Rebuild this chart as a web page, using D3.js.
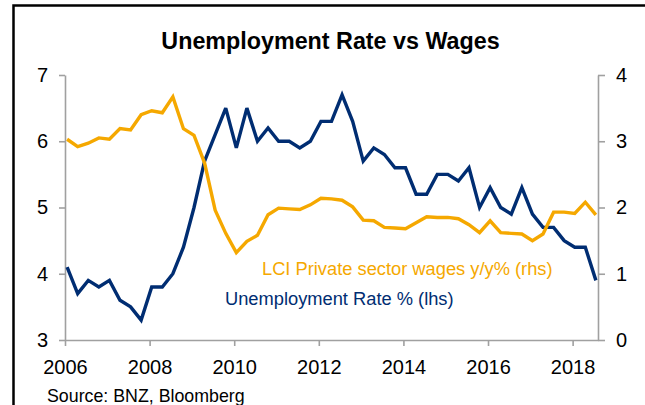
<!DOCTYPE html>
<html>
<head>
<meta charset="utf-8">
<script src="https://cdn.jsdelivr.net/npm/d3@7"></script>
<style>
  html, body { margin: 0; padding: 0; background: #fff; }
  svg { display: block; font-family: "Liberation Sans", Arial, sans-serif; }
</style>
</head>
<body>
<svg id="chart" width="645" height="405"></svg>
<script>
// ---- data (quarterly, 2006Q1 .. 2018Q3) ----
const startYear = 2006;
const quarterCount = 51;
const unemployment = [
  4.1, 3.7, 3.9, 3.8,
  3.9, 3.6, 3.5, 3.3,
  3.8, 3.8, 4.0, 4.4,
  5.0, 5.7, 6.1, 6.5,
  5.9, 6.5, 6.0, 6.2,
  6.0, 6.0, 5.9, 6.0,
  6.3, 6.3, 6.7, 6.3,
  5.7, 5.9, 5.8, 5.6,
  5.6, 5.2, 5.2, 5.5,
  5.5, 5.4, 5.6, 5.0,
  5.3, 5.0, 4.9, 5.3,
  4.9, 4.7, 4.7, 4.5,
  4.4, 4.4, 3.9
];
const wages = [
  3.03, 2.92, 2.97, 3.05,
  3.03, 3.19, 3.17, 3.40,
  3.46, 3.43, 3.67, 3.19,
  3.09, 2.67, 1.96, 1.61,
  1.32, 1.49, 1.58, 1.89,
  1.99, 1.98, 1.97, 2.04,
  2.14, 2.13, 2.11, 2.01,
  1.81, 1.80, 1.70, 1.69,
  1.68, 1.77, 1.86, 1.85,
  1.85, 1.83, 1.74, 1.62,
  1.80, 1.62, 1.61, 1.60,
  1.50, 1.60, 1.93, 1.93,
  1.91, 2.08, 1.89
];
const xTicks = [2006, 2008, 2010, 2012, 2014, 2016, 2018];
const leftTicks = [3, 4, 5, 6, 7];
const rightTicks = [0, 1, 2, 3, 4];

const title = "Unemployment Rate vs Wages";
const wagesLabel = "LCI Private sector wages y/y% (rhs)";
const unempLabel = "Unemployment Rate % (lhs)";
const sourceLabel = "Source: BNZ, Bloomberg";

(function () {
// ---- layout ----
const BLUE = "#002D72";
const ORANGE = "#F5A800";
const AXIS = "#A0A0A0";
const pLeft = 65, pRight = 598, pTop = 75, pBottom = 340;

const svg = d3.select("#chart");

// frame
svg.append("path")
  .attr("d", "M13.5,410 L13.5,5.5 L650,5.5")
  .attr("fill", "none").attr("stroke", "#000").attr("stroke-width", 2.5);

// title
svg.append("text")
  .attr("x", 330.5).attr("y", 49)
  .attr("text-anchor", "middle")
  .attr("font-weight", "bold")
  .attr("font-size", "23.3px")
  .attr("fill", "#000")
  .text(title);

const x = d3.scaleLinear().domain([2006, 2018.6]).range([pLeft, pRight]);
const yL = d3.scaleLinear().domain([3, 7]).range([pBottom, pTop]);
const yR = d3.scaleLinear().domain([0, 4]).range([pBottom, pTop]);

const dates = d3.range(quarterCount).map(i => startYear + i / 4 + 0.05);

function styleAxis(g) {
  g.selectAll("path.domain").attr("stroke", AXIS).attr("stroke-width", 1.6);
  g.selectAll(".tick line").attr("stroke", AXIS).attr("stroke-width", 1.6);
  g.selectAll(".tick text").attr("fill", "#000")
    .attr("font-family", "'Liberation Sans', Arial, sans-serif");
}

const gx = svg.append("g").attr("transform", `translate(0,${pBottom})`)
  .call(d3.axisBottom(x).tickValues(xTicks).tickFormat(d3.format("d"))
    .tickSizeInner(6).tickSizeOuter(0).tickPadding(14))
  .call(styleAxis);
gx.selectAll(".tick text").attr("font-size", "20px");

const gl = svg.append("g").attr("transform", `translate(${pLeft},0)`)
  .call(d3.axisLeft(yL).tickValues(leftTicks).tickFormat(d3.format("d"))
    .tickSizeInner(6).tickSizeOuter(0).tickPadding(11))
  .call(styleAxis);
gl.selectAll(".tick text").attr("font-size", "20px");

const gr = svg.append("g").attr("transform", `translate(${pRight},0)`)
  .call(d3.axisRight(yR).tickValues(rightTicks).tickFormat(d3.format("d"))
    .tickSizeInner(7).tickSizeOuter(0).tickPadding(11))
  .call(styleAxis);
gr.selectAll(".tick text").attr("font-size", "20px");

const lineL = d3.line().x((d, i) => x(dates[i])).y(d => yL(d));
const lineR = d3.line().x((d, i) => x(dates[i])).y(d => yR(d));

svg.append("path").datum(unemployment)
  .attr("d", lineL).attr("fill", "none")
  .attr("stroke", BLUE).attr("stroke-width", 3.4)
  .attr("stroke-linejoin", "miter").attr("stroke-miterlimit", 3);

svg.append("path").datum(wages)
  .attr("d", lineR).attr("fill", "none")
  .attr("stroke", ORANGE).attr("stroke-width", 3.4)
  .attr("stroke-linejoin", "miter").attr("stroke-miterlimit", 3);

svg.append("text").attr("x", 262).attr("y", 275)
  .attr("font-size", "18.3px").attr("fill", ORANGE).text(wagesLabel);
svg.append("text").attr("x", 225).attr("y", 305)
  .attr("font-size", "18.3px").attr("fill", BLUE).text(unempLabel);

svg.append("text").attr("x", 47).attr("y", 401.5)
  .attr("font-size", "17.8px").attr("fill", "#000").text(sourceLabel);
})();
</script>
</body>
</html>
